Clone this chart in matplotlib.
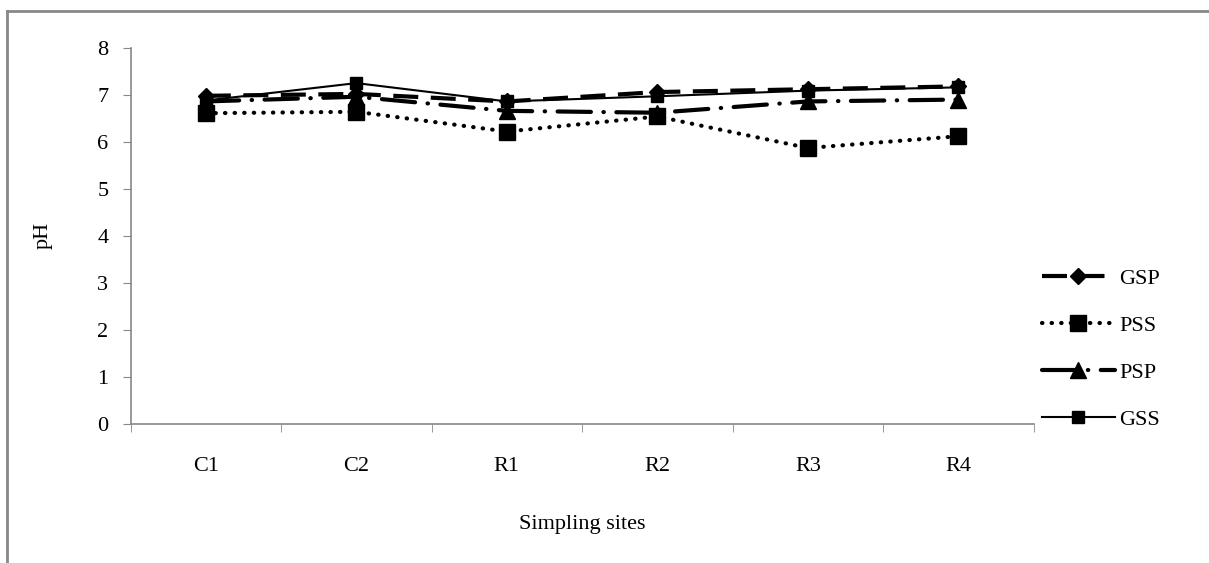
import matplotlib.pyplot as plt
from matplotlib.lines import Line2D

plt.rcParams['font.family'] = ['Liberation Serif', 'DejaVu Serif']

sites = ["C1", "C2", "R1", "R2", "R3", "R4"]
gsp = [6.98, 7.02, 6.86, 7.06, 7.12, 7.18]
pss = [6.61, 6.64, 6.22, 6.54, 5.87, 6.12]
psp = [6.86, 6.96, 6.66, 6.62, 6.86, 6.90]
gss = [6.88, 7.25, 6.86, 6.97, 7.09, 7.16]

fig = plt.figure(figsize=(12.09, 5.63), dpi=100)
ax = fig.add_axes([0.108, 0.247, 0.747, 0.668])

x = range(len(sites))
ax.plot(x, gsp, color='black', lw=3, dashes=(6, 3), marker='D', ms=8, label='GSP')
ax.plot(x, pss, color='black', lw=3, linestyle=(0, (0.1, 2.2)), dash_capstyle='round',
        marker='s', ms=12, label='PSS')
ax.plot(x, psp, color='black', lw=3, linestyle=(0, (8, 3, 0.1, 3)), dash_capstyle='round',
        marker='^', ms=11, label='PSP')
ax.plot(x, gss, color='black', lw=1.5, marker='s', ms=9, label='GSS')

ax.set_xlim(-0.5, 5.5)
ax.set_ylim(0, 8)
ax.set_yticks(range(0, 9))
ax.set_xticks(list(x))
ax.set_xticklabels(sites)
ax.set_xticks([i - 0.5 for i in range(7)], minor=True)
ax.tick_params(axis='x', which='major', length=0, pad=24, labelsize=16)
ax.tick_params(axis='x', which='minor', length=6, color='#888888', direction='out')
ax.tick_params(axis='y', length=6, color='#888888', labelsize=16, pad=10)
for s in ['top', 'right']:
    ax.spines[s].set_visible(False)
for s in ['left', 'bottom']:
    ax.spines[s].set_color('#888888')
    ax.spines[s].set_linewidth(1.2)

ax.set_ylabel('pH', fontsize=16, labelpad=32)
ax.set_xlabel('Simpling sites', fontsize=16, labelpad=28)

fig.legend(loc='center left', bbox_to_anchor=(0.845, 0.38), frameon=False,
           fontsize=16, handlelength=3.3, labelspacing=1.2, handletextpad=0.2)

# outer frame: only top and left edges show
fig.add_artist(Line2D([0.0055, 1.0], [0.9796, 0.9796], transform=fig.transFigure,
                      color='#888888', lw=2))
fig.add_artist(Line2D([0.0055, 0.0055], [0.0, 0.9796], transform=fig.transFigure,
                      color='#888888', lw=2))

fig.savefig('out.png', dpi=100)
